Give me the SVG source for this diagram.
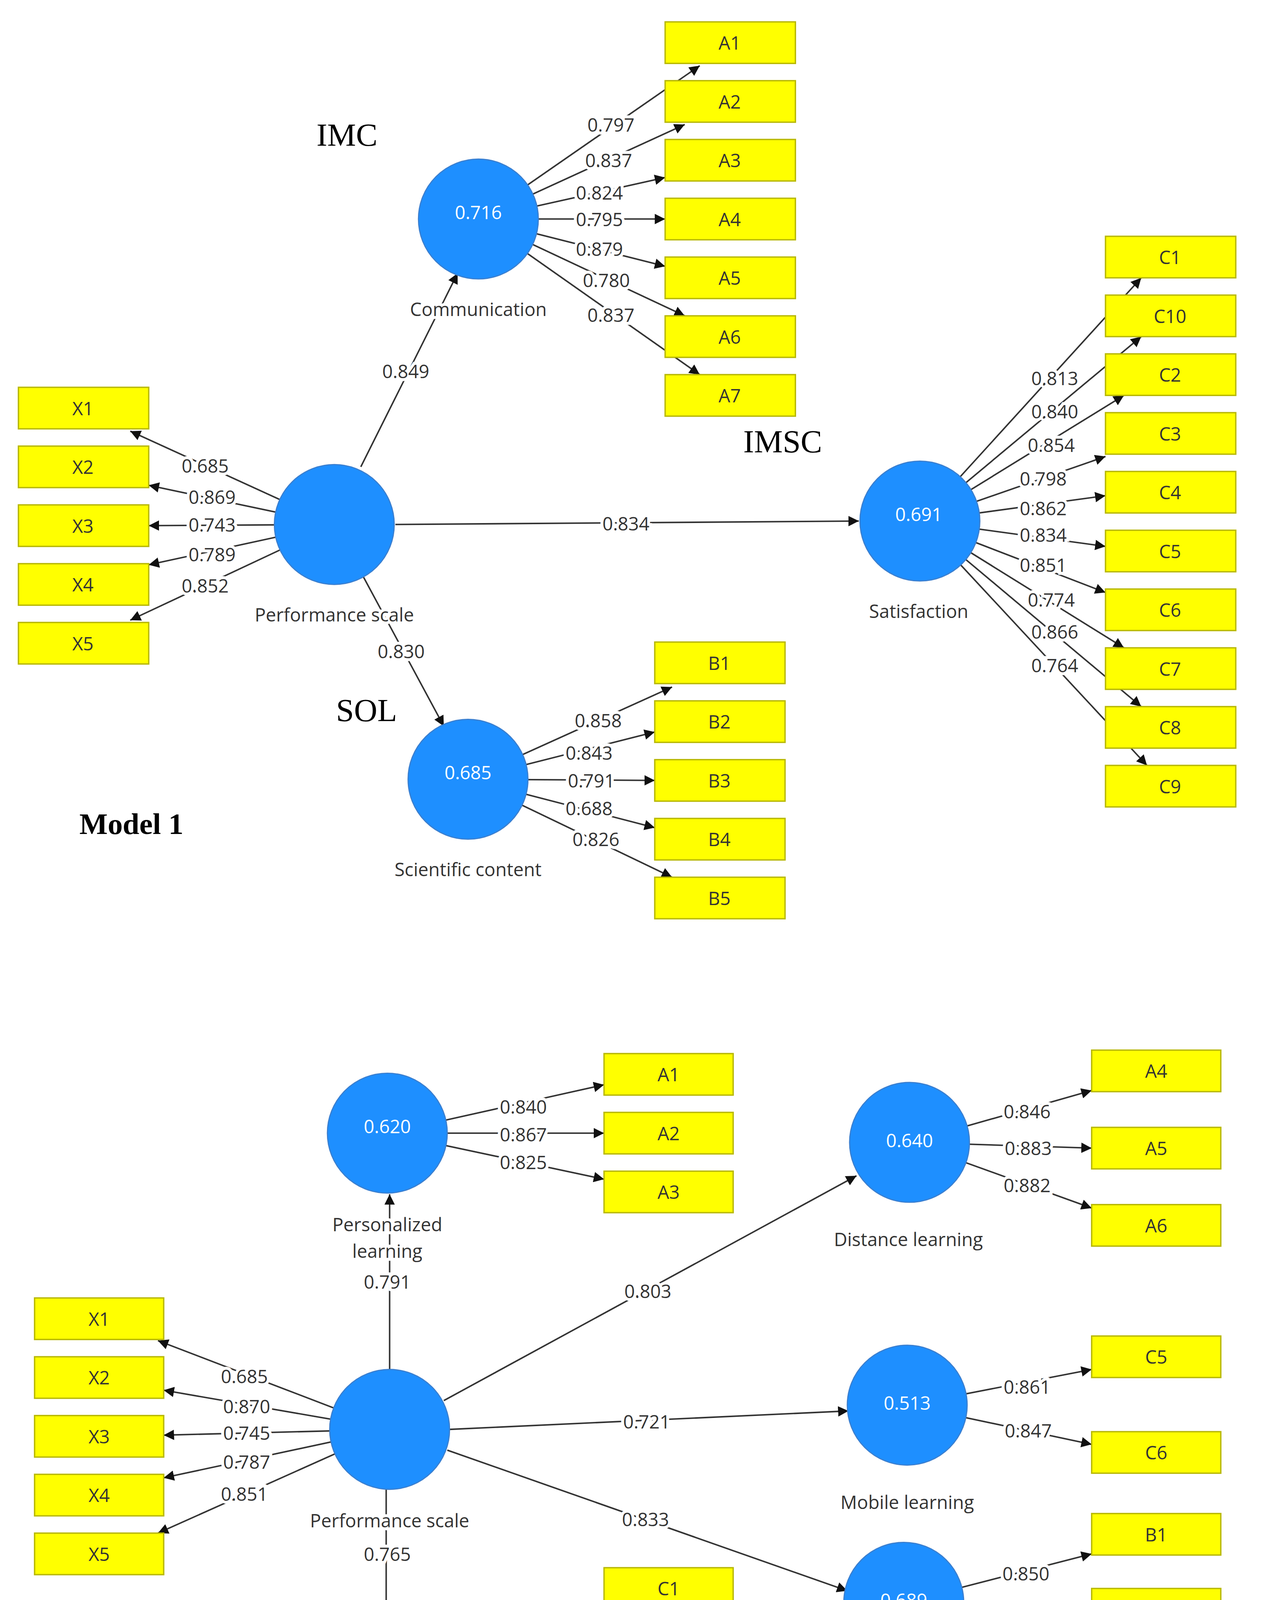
<svg xmlns="http://www.w3.org/2000/svg" width="3246" height="4658" viewBox="0 0 3246 4658">
<style>
.b{fill:#FFFF00;stroke:#b8b800;stroke-width:1.2}
.c{fill:#1E8FFF;stroke:#3a7fd0;stroke-width:1}
.t{font-family:"Open Sans","DejaVu Sans",sans-serif;font-size:16px;fill:#333;text-anchor:middle;dominant-baseline:central}
.w{fill:#fff}
.l{font-family:"Open Sans","DejaVu Sans",sans-serif;font-size:16px;fill:#333;text-anchor:middle;dominant-baseline:central;stroke:#fff;stroke-width:5px;paint-order:stroke}
.s{font-family:"Liberation Serif",serif;font-size:28px;fill:#000;text-anchor:middle;dominant-baseline:central}
.m{font-family:"Liberation Serif",serif;font-size:26px;font-weight:bold;fill:#000;text-anchor:middle;dominant-baseline:central}
.k line{stroke:#333;stroke-width:1.3;marker-end:url(#a)}
</style>
<defs><marker id="a" viewBox="0 0 10 10" refX="10" refY="5" markerWidth="9" markerHeight="9" markerUnits="userSpaceOnUse" orient="auto"><path d="M0,0L10,5L0,10z" fill="#111"/></marker></defs>
<rect width="3246" height="4658" fill="#fff"/>
<g transform="scale(2.951)">
<g id="connectors" class="k">
<line x1="415" y1="190" x2="607" y2="57"/><line x1="415" y1="190" x2="594" y2="108"/><line x1="415" y1="190" x2="577" y2="154"/><line x1="415" y1="190" x2="577" y2="190"/><line x1="415" y1="190" x2="577" y2="231"/><line x1="415" y1="190" x2="594" y2="274"/><line x1="415" y1="190" x2="607" y2="325"/>
<line x1="290" y1="455" x2="113" y2="374"/><line x1="290" y1="455" x2="129" y2="421"/><line x1="290" y1="455" x2="129" y2="456"/><line x1="290" y1="455" x2="129" y2="490"/><line x1="290" y1="455" x2="113" y2="538"/>
<line x1="313" y1="405" x2="397" y2="237"/><line x1="343" y1="455" x2="745" y2="452"/><line x1="315" y1="500" x2="385" y2="630"/>
<line x1="798" y1="452" x2="990" y2="241"/><line x1="798" y1="452" x2="990" y2="292"/><line x1="798" y1="452" x2="975" y2="343"/><line x1="798" y1="452" x2="959" y2="396"/><line x1="798" y1="452" x2="959" y2="430"/><line x1="798" y1="452" x2="959" y2="474"/><line x1="798" y1="452" x2="959" y2="514"/><line x1="798" y1="452" x2="975" y2="562"/><line x1="798" y1="452" x2="990" y2="613"/><line x1="798" y1="452" x2="995" y2="664"/>
<line x1="406" y1="676" x2="583" y2="596"/><line x1="406" y1="676" x2="568" y2="635"/><line x1="406" y1="676" x2="568" y2="677"/><line x1="406" y1="676" x2="568" y2="718"/><line x1="406" y1="676" x2="583" y2="761"/>
<line x1="336" y1="983" x2="524" y2="941"/><line x1="336" y1="983" x2="524" y2="983"/><line x1="336" y1="983" x2="524" y2="1023"/>
<line x1="338" y1="1188" x2="338" y2="1036"/>
<line x1="338" y1="1240" x2="137" y2="1163"/><line x1="338" y1="1240" x2="142" y2="1206"/><line x1="338" y1="1240" x2="142" y2="1245"/><line x1="338" y1="1240" x2="142" y2="1282"/><line x1="338" y1="1240" x2="137" y2="1330"/>
<line x1="385" y1="1215" x2="743" y2="1020"/><line x1="390" y1="1240" x2="736" y2="1224"/><line x1="388" y1="1258" x2="735" y2="1380"/><line x1="335" y1="1292" x2="335" y2="1402"/>
<line x1="789" y1="991" x2="947" y2="946"/><line x1="789" y1="991" x2="947" y2="996"/><line x1="789" y1="991" x2="947" y2="1048"/>
<line x1="787" y1="1219" x2="947" y2="1188"/><line x1="787" y1="1219" x2="947" y2="1253"/>
<line x1="784" y1="1390" x2="947" y2="1348"/><line x1="784" y1="1390" x2="947" y2="1396"/><line x1="784" y1="1390" x2="947" y2="1456"/>
<line x1="333" y1="1451" x2="524" y2="1393"/><line x1="333" y1="1451" x2="524" y2="1435"/><line x1="333" y1="1451" x2="524" y2="1474"/><line x1="333" y1="1451" x2="524" y2="1516"/>
</g>
<g id="labels">
<text class="l" x="530" y="108">0.797</text><text class="l" x="528" y="139">0.837</text><text class="l" x="520" y="167">0.824</text><text class="l" x="520" y="190">0.795</text><text class="l" x="520" y="216">0.879</text><text class="l" x="526" y="243">0.780</text><text class="l" x="530" y="273">0.837</text>
<text class="l" x="178" y="404">0.685</text><text class="l" x="184" y="431">0.869</text><text class="l" x="184" y="455">0.743</text><text class="l" x="184" y="481">0.789</text><text class="l" x="178" y="508">0.852</text>
<text class="l" x="352" y="322">0.849</text><text class="l" x="543" y="454">0.834</text><text class="l" x="348" y="565">0.830</text>
<text class="l" x="915" y="328">0.813</text><text class="l" x="915" y="357">0.840</text><text class="l" x="912" y="386">0.854</text><text class="l" x="905" y="415">0.798</text><text class="l" x="905" y="441">0.862</text><text class="l" x="905" y="464">0.834</text><text class="l" x="905" y="490">0.851</text><text class="l" x="912" y="520">0.774</text><text class="l" x="915" y="548">0.866</text><text class="l" x="915" y="577">0.764</text>
<text class="l" x="519" y="625">0.858</text><text class="l" x="511" y="653">0.843</text><text class="l" x="513" y="677">0.791</text><text class="l" x="511" y="701">0.688</text><text class="l" x="517" y="728">0.826</text>
<text class="l" x="454" y="960">0.840</text><text class="l" x="454" y="984">0.867</text><text class="l" x="454" y="1008">0.825</text><text class="l" x="336" y="1112">0.791</text>
<text class="l" x="212" y="1194">0.685</text><text class="l" x="214" y="1220">0.870</text><text class="l" x="214" y="1243">0.745</text><text class="l" x="214" y="1268">0.787</text><text class="l" x="212" y="1296">0.851</text>
<text class="l" x="562" y="1120">0.803</text><text class="l" x="561" y="1233">0.721</text><text class="l" x="560" y="1318">0.833</text><text class="l" x="336" y="1348">0.765</text>
<text class="l" x="891" y="964">0.846</text><text class="l" x="892" y="996">0.883</text><text class="l" x="891" y="1028">0.882</text>
<text class="l" x="891" y="1203">0.861</text><text class="l" x="892" y="1241">0.847</text>
<text class="l" x="890" y="1365">0.850</text><text class="l" x="891" y="1395">0.795</text><text class="l" x="890" y="1432">0.847</text>
<text class="l" x="452" y="1419">0.873</text><text class="l" x="454" y="1444">0.845</text><text class="l" x="454" y="1468">0.864</text><text class="l" x="452" y="1492">0.900</text>
</g>
<g id="m1-indicators">
<g id="m1A1"><rect class="b" x="577" y="19" width="113" height="36"/><text class="t" x="633" y="37">A1</text></g>
<g id="m1A2"><rect class="b" x="577" y="70" width="113" height="36"/><text class="t" x="633" y="88">A2</text></g>
<g id="m1A3"><rect class="b" x="577" y="121" width="113" height="36"/><text class="t" x="633" y="139">A3</text></g>
<g id="m1A4"><rect class="b" x="577" y="172" width="113" height="36"/><text class="t" x="633" y="190">A4</text></g>
<g id="m1A5"><rect class="b" x="577" y="223" width="113" height="36"/><text class="t" x="633" y="241">A5</text></g>
<g id="m1A6"><rect class="b" x="577" y="274" width="113" height="36"/><text class="t" x="633" y="292">A6</text></g>
<g id="m1A7"><rect class="b" x="577" y="325" width="113" height="36"/><text class="t" x="633" y="343">A7</text></g>
<g id="m1X1"><rect class="b" x="16" y="336" width="113" height="36"/><text class="t" x="72" y="354">X1</text></g>
<g id="m1X2"><rect class="b" x="16" y="387" width="113" height="36"/><text class="t" x="72" y="405">X2</text></g>
<g id="m1X3"><rect class="b" x="16" y="438" width="113" height="36"/><text class="t" x="72" y="456">X3</text></g>
<g id="m1X4"><rect class="b" x="16" y="489" width="113" height="36"/><text class="t" x="72" y="507">X4</text></g>
<g id="m1X5"><rect class="b" x="16" y="540" width="113" height="36"/><text class="t" x="72" y="558">X5</text></g>
<g id="m1C1"><rect class="b" x="959" y="205" width="113" height="36"/><text class="t" x="1015" y="223">C1</text></g>
<g id="m1C10"><rect class="b" x="959" y="256" width="113" height="36"/><text class="t" x="1015" y="274">C10</text></g>
<g id="m1C2"><rect class="b" x="959" y="307" width="113" height="36"/><text class="t" x="1015" y="325">C2</text></g>
<g id="m1C3"><rect class="b" x="959" y="358" width="113" height="36"/><text class="t" x="1015" y="376">C3</text></g>
<g id="m1C4"><rect class="b" x="959" y="409" width="113" height="36"/><text class="t" x="1015" y="427">C4</text></g>
<g id="m1C5"><rect class="b" x="959" y="460" width="113" height="36"/><text class="t" x="1015" y="478">C5</text></g>
<g id="m1C6"><rect class="b" x="959" y="511" width="113" height="36"/><text class="t" x="1015" y="529">C6</text></g>
<g id="m1C7"><rect class="b" x="959" y="562" width="113" height="36"/><text class="t" x="1015" y="580">C7</text></g>
<g id="m1C8"><rect class="b" x="959" y="613" width="113" height="36"/><text class="t" x="1015" y="631">C8</text></g>
<g id="m1C9"><rect class="b" x="959" y="664" width="113" height="36"/><text class="t" x="1015" y="682">C9</text></g>
<g id="m1B1"><rect class="b" x="568" y="557" width="113" height="36"/><text class="t" x="624" y="575">B1</text></g>
<g id="m1B2"><rect class="b" x="568" y="608" width="113" height="36"/><text class="t" x="624" y="626">B2</text></g>
<g id="m1B3"><rect class="b" x="568" y="659" width="113" height="36"/><text class="t" x="624" y="677">B3</text></g>
<g id="m1B4"><rect class="b" x="568" y="710" width="113" height="36"/><text class="t" x="624" y="728">B4</text></g>
<g id="m1B5"><rect class="b" x="568" y="761" width="113" height="36"/><text class="t" x="624" y="779">B5</text></g>
</g>
<g id="m1-constructs">
<g id="m1Comm"><circle class="c" cx="415" cy="190" r="52"/><text class="t w" x="415" y="184">0.716</text><text class="l" x="415" y="268">Communication</text></g>
<g id="m1Perf"><circle class="c" cx="290" cy="455" r="52"/><text class="l" x="290" y="533">Performance scale</text></g>
<g id="m1Sat"><circle class="c" cx="798" cy="452" r="52"/><text class="t w" x="797" y="446">0.691</text><text class="t" x="797" y="530">Satisfaction</text></g>
<g id="m1Sci"><circle class="c" cx="406" cy="676" r="52"/><text class="t w" x="406" y="670">0.685</text><text class="t" x="406" y="754">Scientific content</text></g>
<text class="s" x="301" y="117">IMC</text><text class="s" x="679" y="383">IMSC</text><text class="s" x="318" y="616">SOL</text>
<text class="m" x="114" y="715">Model 1</text>
</g>
<g id="m2-indicators">
<g id="m2A1"><rect class="b" x="524" y="914" width="112" height="36"/><text class="t" x="580" y="932">A1</text></g>
<g id="m2A2"><rect class="b" x="524" y="965" width="112" height="36"/><text class="t" x="580" y="983">A2</text></g>
<g id="m2A3"><rect class="b" x="524" y="1016" width="112" height="36"/><text class="t" x="580" y="1034">A3</text></g>
<g id="m2X1"><rect class="b" x="30" y="1126" width="112" height="36"/><text class="t" x="86" y="1144">X1</text></g>
<g id="m2X2"><rect class="b" x="30" y="1177" width="112" height="36"/><text class="t" x="86" y="1195">X2</text></g>
<g id="m2X3"><rect class="b" x="30" y="1228" width="112" height="36"/><text class="t" x="86" y="1246">X3</text></g>
<g id="m2X4"><rect class="b" x="30" y="1279" width="112" height="36"/><text class="t" x="86" y="1297">X4</text></g>
<g id="m2X5"><rect class="b" x="30" y="1330" width="112" height="36"/><text class="t" x="86" y="1348">X5</text></g>
<g id="m2A4"><rect class="b" x="947" y="911" width="112" height="36"/><text class="t" x="1003" y="929">A4</text></g>
<g id="m2A5"><rect class="b" x="947" y="978" width="112" height="36"/><text class="t" x="1003" y="996">A5</text></g>
<g id="m2A6"><rect class="b" x="947" y="1045" width="112" height="36"/><text class="t" x="1003" y="1063">A6</text></g>
<g id="m2C5"><rect class="b" x="947" y="1159" width="112" height="36"/><text class="t" x="1003" y="1177">C5</text></g>
<g id="m2C6"><rect class="b" x="947" y="1242" width="112" height="36"/><text class="t" x="1003" y="1260">C6</text></g>
<g id="m2B1"><rect class="b" x="947" y="1313" width="112" height="36"/><text class="t" x="1003" y="1331">B1</text></g>
<g id="m2B2"><rect class="b" x="947" y="1378" width="112" height="36"/><text class="t" x="1003" y="1396">B2</text></g>
<g id="m2B3"><rect class="b" x="947" y="1455" width="112" height="36"/><text class="t" x="1003" y="1473">B3</text></g>
<g id="m2C1"><rect class="b" x="524" y="1360" width="112" height="36"/><text class="t" x="580" y="1378">C1</text></g>
<g id="m2C2"><rect class="b" x="524" y="1411" width="112" height="36"/><text class="t" x="580" y="1429">C2</text></g>
<g id="m2C3"><rect class="b" x="524" y="1462" width="112" height="36"/><text class="t" x="580" y="1480">C3</text></g>
<g id="m2C4"><rect class="b" x="524" y="1513" width="112" height="36"/><text class="t" x="580" y="1531">C4</text></g>
</g>
<g id="m2-constructs">
<g id="m2Pers"><circle class="c" cx="336" cy="983" r="52"/><text class="t w" x="336" y="977">0.620</text><text class="l" x="336" y="1062">Personalized</text><text class="l" x="336" y="1085">learning</text></g>
<g id="m2Perf"><circle class="c" cx="338" cy="1240" r="52"/><text class="l" x="338" y="1319">Performance scale</text></g>
<g id="m2Dist"><circle class="c" cx="789" cy="991" r="52"/><text class="t w" x="789" y="989">0.640</text><text class="t" x="788" y="1075">Distance learning</text></g>
<g id="m2Mob"><circle class="c" cx="787" cy="1219" r="52"/><text class="t w" x="787" y="1217">0.513</text><text class="t" x="787" y="1303">Mobile learning</text></g>
<g id="m2Self"><circle class="c" cx="784" cy="1390" r="52"/><text class="t w" x="784" y="1388">0.689</text><text class="t" x="783" y="1474">Self-learning</text></g>
<g id="m2Spec"><circle class="c" cx="333" cy="1451" r="52"/><text class="t w" x="333" y="1449">0.580</text><text class="t" x="332" y="1535">Specialty</text></g>
<text class="m" x="120" y="1476">Model 2</text>
</g>
</g>
</svg>
